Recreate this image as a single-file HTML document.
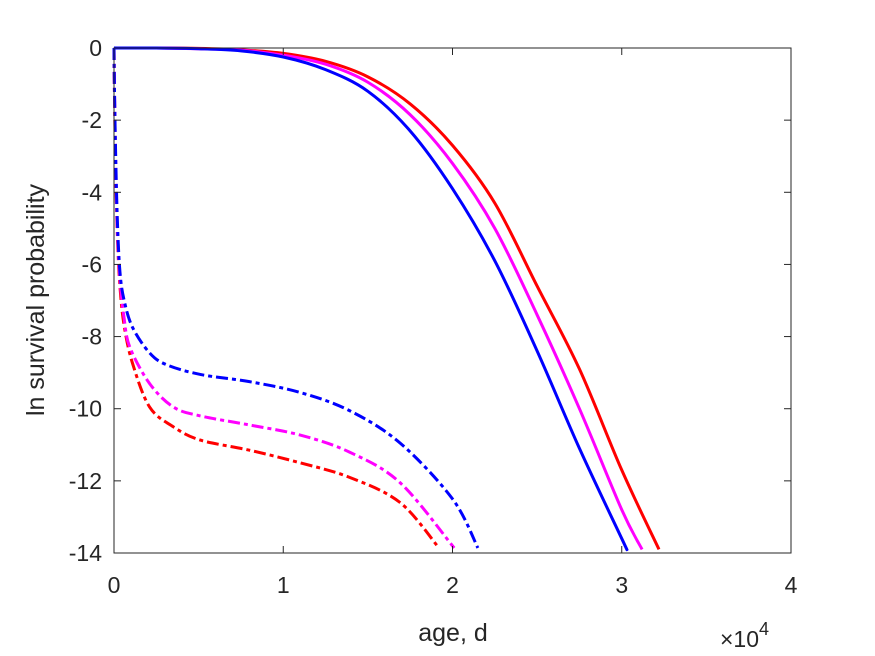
<!DOCTYPE html>
<html><head><meta charset="utf-8"><style>
html,body{margin:0;padding:0;background:#fff}
svg{display:block;font-family:"Liberation Sans",sans-serif}
</style></head><body>
<svg width="875" height="656" viewBox="0 0 875 656">
<g id="plot"></g>
</svg>
<script>
const xTicks=[0,1,2,3,4];
const yTicks=[0,-2,-4,-6,-8,-10,-12,-14];
const solidX_blue=[0,0.25,0.5,0.75,1,1.25,1.5,1.75,2,2.25,2.5,2.75,3,3.03];
const solidY_blue=[0,0,-0.02,-0.08,-0.25,-0.6,-1.2,-2.3,-3.9,-5.9,-8.4,-11.1,-13.6,-13.9];
const solidX_magenta=[0,0.25,0.5,0.75,1,1.25,1.5,1.75,2,2.25,2.5,2.75,3,3.12];
const solidY_magenta=[0,0,-0.02,-0.06,-0.2,-0.45,-0.95,-1.85,-3.2,-5.0,-7.4,-10.0,-12.8,-13.9];
const solidX_red=[0,0.25,0.5,0.75,1,1.25,1.5,1.75,2,2.25,2.5,2.75,3,3.22];
const solidY_red=[0,0,-0.01,-0.05,-0.15,-0.37,-0.8,-1.55,-2.7,-4.3,-6.6,-8.9,-11.7,-13.9];
const dashX_blue=[0,0.001,0.004,0.01,0.02,0.035,0.06,0.11,0.21,0.31,0.51,0.8,1.1,1.39,1.69,2.0,2.15];
const dashY_blue=[0,-0.5,-1.5,-3.0,-4.8,-6.2,-7.0,-7.75,-8.45,-8.78,-9.05,-9.25,-9.55,-10.05,-10.95,-12.5,-13.86];
const dashX_magenta=[0,0.001,0.004,0.01,0.02,0.035,0.06,0.094,0.21,0.35,0.51,0.8,1.1,1.39,1.69,2.01];
const dashY_magenta=[0,-0.5,-1.6,-3.2,-5.0,-6.4,-7.5,-8.3,-9.3,-9.95,-10.2,-10.45,-10.73,-11.2,-12.05,-13.86];
const dashX_red=[0,0.001,0.004,0.01,0.02,0.035,0.06,0.11,0.21,0.35,0.51,0.8,1.1,1.39,1.69,1.92];
const dashY_red=[0,-0.5,-1.7,-3.4,-5.2,-6.6,-7.7,-8.75,-9.95,-10.5,-10.87,-11.15,-11.5,-11.9,-12.6,-13.86];

const L=114,R=791,T=48,B=553;
const sx=v=>L+(v-0)/(4-0)*(R-L);
const sy=v=>T+(0-v)/14*(B-T);
const NS="http://www.w3.org/2000/svg";
const g=document.getElementById('plot');
function mk(tag,attrs){const e=document.createElementNS(NS,tag);for(const k in attrs)e.setAttribute(k,attrs[k]);g.appendChild(e);return e;}
function smooth(pts){
  let d='M'+pts[0][0].toFixed(2)+','+pts[0][1].toFixed(2);
  for(let i=0;i<pts.length-1;i++){
    const p0=pts[i-1]||pts[i],p1=pts[i],p2=pts[i+1],p3=pts[i+2]||p2;
    const c1=[p1[0]+(p2[0]-p0[0])/6,p1[1]+(p2[1]-p0[1])/6];
    const c2=[p2[0]-(p3[0]-p1[0])/6,p2[1]-(p3[1]-p1[1])/6];
    d+=' C'+c1.map(v=>v.toFixed(2)).join(',')+' '+c2.map(v=>v.toFixed(2)).join(',')+' '+p2[0].toFixed(2)+','+p2[1].toFixed(2);
  }
  return d;
}
function line(xs,ys,color,dashed,name){
  const pts=xs.map((x,i)=>[sx(x),sy(ys[i])]);
  const p=mk('path',{d:smooth(pts),fill:'none',stroke:color,'stroke-width':3,'stroke-linejoin':'round'});
  if(dashed)p.setAttribute('stroke-dasharray','12,4,4,4');
  
  
}
line(dashX_red,dashY_red,'#ff0000',true,'red-dashed-series');
line(dashX_magenta,dashY_magenta,'#ff00ff',true,'magenta-dashed-series');
line(dashX_blue,dashY_blue,'#0000ff',true,'blue-dashed-series');
line(solidX_red,solidY_red,'#ff0000',false,'red-solid-series');
line(solidX_magenta,solidY_magenta,'#ff00ff',false,'magenta-solid-series');
line(solidX_blue,solidY_blue,'#0000ff',false,'blue-solid-series');

const box=mk('rect',{x:L,y:T,width:R-L,height:B-T,fill:'none',stroke:'#262626','stroke-width':1});


xTicks.forEach(v=>{
  const x=sx(v);
  mk('line',{x1:x,x2:x,y1:B,y2:B-7,stroke:'#262626'});
  mk('line',{x1:x,x2:x,y1:T,y2:T+7,stroke:'#262626'});
  const t=mk('text',{x:x,y:B+40,'text-anchor':'middle','font-size':23,fill:'#262626'});
  t.textContent=v;
  
  
});
yTicks.forEach(v=>{
  const y=sy(v);
  mk('line',{x1:L,x2:L+7,y1:y,y2:y,stroke:'#262626'});
  mk('line',{x1:R,x2:R-7,y1:y,y2:y,stroke:'#262626'});
  const t=mk('text',{x:L-12,y:y+8,'text-anchor':'end','font-size':23,fill:'#262626'});
  t.textContent=v;
  
  
});
const xl=mk('text',{x:453,y:641,'text-anchor':'middle','font-size':25,fill:'#262626'});
xl.textContent='age, d';


const yl=mk('text',{x:0,y:0,'text-anchor':'middle','font-size':25,fill:'#262626',transform:'translate(44,300) rotate(-90)'});
yl.textContent='ln survival probability';


const ex=mk('text',{x:720,y:647,'font-size':23,fill:'#262626'});
ex.innerHTML='×10<tspan dy="-12" font-size="18">4</tspan>';


</script>
</body></html>
